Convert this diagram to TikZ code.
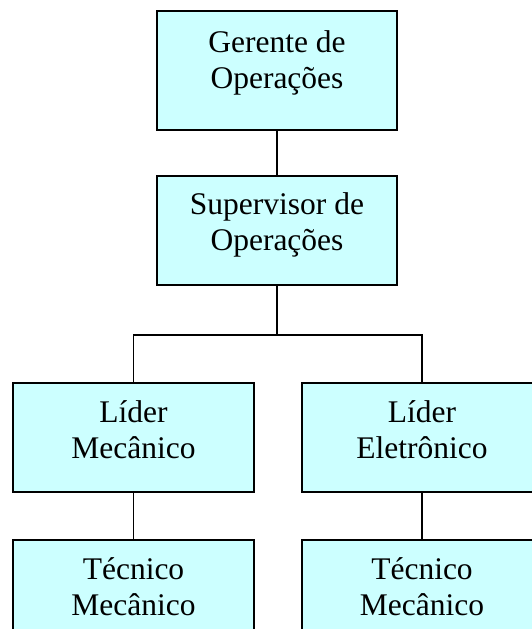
\documentclass[tikz,border=0pt]{standalone}
\usepackage{fontspec}
\setmainfont{Liberation Serif}
\definecolor{boxfill}{HTML}{CCFFFF}
\newcommand{\twolines}[2]{{\setlength{\tabcolsep}{0pt}\renewcommand{\arraystretch}{1}\begin{tabular}[t]{c}#1\\#2\end{tabular}}}
\begin{document}
\begin{tikzpicture}[x=1pt,y=-1pt,
  box/.style={draw=black,fill=boxfill,line width=1.3pt,rectangle,inner sep=0pt,minimum width=240pt},
  lbl/.style={anchor=base,inner sep=0pt,font=\fontsize{31.5}{36}\selectfont},
  conn/.style={draw=black,line width=1.3pt}]
\useasboundingbox (0,0) rectangle (531,629);
\node[box,minimum height=119pt] (g) at (277,70.5) {};
\node[box,minimum height=109pt] (s) at (277,230.5) {};
\node[box,minimum height=109pt,minimum width=241pt] (lm) at (133.5,437.5) {};
\node[box,minimum height=109pt] (le) at (422,437.5) {};
\node[box,minimum height=109pt,minimum width=241pt] (tm) at (133.5,594.5) {};
\node[box,minimum height=109pt] (te) at (422,594.5) {};
\node[lbl] (gl) at (277,52) {\twolines{Gerente de}{Operações}};
\node[lbl] (sl) at (277,214.5) {\twolines{Supervisor de}{Operações}};
\node[lbl] (lml) at (133.5,422.5) {\twolines{Líder}{Mecânico}};
\node[lbl] (lel) at (422,422.5) {\twolines{Líder}{Eletrônico}};
\node[lbl] (tml) at (133.5,579.5) {\twolines{Técnico}{Mecânico}};
\node[lbl] (tel) at (422,579.5) {\twolines{Técnico}{Mecânico}};
\coordinate (bar) at (277,335);
\draw[conn] (g.south) -- (s.north);
\draw[conn] (s.south) -- (bar);
\draw[conn] (lm.north) |- (bar) -| (le.north);
\draw[conn] (lm.south) -- (tm.north);
\draw[conn] (le.south) -- (te.north);
\end{tikzpicture}
\end{document}
